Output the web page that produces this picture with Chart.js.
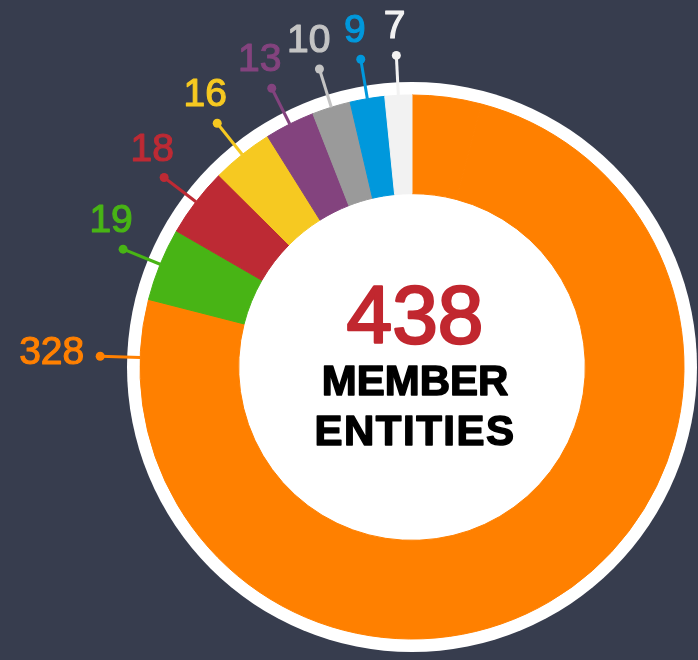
<!DOCTYPE html>
<html>
<head>
<meta charset="utf-8">
<script src="https://cdn.jsdelivr.net/npm/chart.js@4/dist/chart.umd.min.js"></script>
<style>
  html, body { margin: 0; padding: 0; background: #373d4e; }
  #wrap { width: 698px; height: 660px; overflow: hidden; }
  canvas { display: block; }
</style>
</head>
<body>
<div id="wrap"><canvas id="c" width="698" height="660"></canvas></div>
<script>
// ---- data ----
// The ring adds up to the 438 in the centre: 18 entities are drawn in orange without a label.
const categories = ['Unlabelled', 'Group A', 'Group B', 'Group C', 'Group D', 'Group E', 'Group F', 'Group G', 'Group H'];
const values = [18, 328, 19, 18, 16, 13, 10, 9, 7];
const showLabel = [false, true, true, true, true, true, true, true, true];
const sliceColors = ['#ff8000', '#ff8000', '#48b415', '#bd2a34', '#f6c921', '#83437e', '#9a9a9a', '#0098dc', '#f2f2f2'];
const labelColors = ['#ff8000', '#ff8000', '#48b415', '#bd2a34', '#f6c921', '#83437e', '#c4c4c4', '#0098dc', '#f2f2f2'];
const centerValue = '438';
const centerLines = ['MEMBER', 'ENTITIES'];

const FONT = '"Liberation Sans", Arial, Helvetica, sans-serif';

const decorPlugin = {
  id: 'decor',
  beforeDatasetsDraw(chart) {
    const meta = chart.getDatasetMeta(0);
    const arc = meta.data[0];
    if (!arc) return;
    const ctx = chart.ctx;
    ctx.save();
    ctx.fillStyle = '#ffffff';
    ctx.beginPath();
    ctx.arc(arc.x, arc.y, arc.outerRadius + 13, 0, Math.PI * 2);
    ctx.fill();
    ctx.restore();
  },
  afterDatasetsDraw(chart) {
    const meta = chart.getDatasetMeta(0);
    const ctx = chart.ctx;
    const dotR = 312;
    const maxBack = 12.4 * Math.PI / 180;
    ctx.save();
    ctx.lineJoin = 'round';
    meta.data.forEach((arc, i) => {
      if (!showLabel[i]) return;
      const span = arc.endAngle - arc.startAngle;
      const a = arc.endAngle - Math.min(span / 2, maxBack);
      const c = Math.cos(a), s = Math.sin(a);
      const x0 = arc.x + c * arc.outerRadius, y0 = arc.y + s * arc.outerRadius;
      const x1 = arc.x + c * dotR, y1 = arc.y + s * dotR;
      const col = labelColors[i];
      ctx.strokeStyle = col;
      ctx.lineWidth = 3;
      ctx.beginPath();
      ctx.moveTo(x0, y0);
      ctx.lineTo(x1, y1);
      ctx.stroke();
      ctx.fillStyle = col;
      ctx.beginPath();
      ctx.arc(x1, y1, 4.5, 0, Math.PI * 2);
      ctx.fill();
      ctx.font = '39px ' + FONT;
      ctx.lineWidth = 1.2;
      let tx, ty;
      if (Math.abs(c) > 0.95) {
        ctx.textAlign = c < 0 ? 'right' : 'left';
        ctx.textBaseline = 'middle';
        tx = x1 + c * 16; ty = y1 - 3;
      } else {
        ctx.textAlign = 'center';
        ctx.textBaseline = 'alphabetic';
        tx = x1 + Math.sign(c) * 12 * Math.min(1, Math.abs(c) * 3);
        ty = y1 - 17;
      }
      ctx.strokeText(String(values[i]), tx, ty);
      ctx.fillText(String(values[i]), tx, ty);
    });
    // center text
    const a0 = meta.data[0];
    const cx = a0.x + 3, cy = a0.y;
    ctx.textAlign = 'center';
    ctx.textBaseline = 'alphabetic';
    ctx.font = '82px ' + FONT;
    ctx.fillStyle = '#c1272f';
    ctx.strokeStyle = '#c1272f';
    ctx.lineWidth = 2.5;
    ctx.strokeText(centerValue, cx, cy - 24);
    ctx.fillText(centerValue, cx, cy - 24);
    ctx.font = 'bold 42px ' + FONT;
    ctx.fillStyle = '#000000';
    ctx.strokeStyle = '#000000';
    ctx.lineWidth = 1.5;
    centerLines.forEach((t, k) => {
      ctx.letterSpacing = k === 1 ? '1.5px' : '0px';
      ctx.strokeText(t, cx, cy + 28 + k * 50);
      ctx.fillText(t, cx, cy + 28 + k * 50);
    });
    ctx.restore();
  }
};

new Chart(document.getElementById('c'), {
  type: 'doughnut',
  data: {
    labels: categories,
    datasets: [{
      data: values,
      backgroundColor: sliceColors,
      borderColor: sliceColors,
      borderWidth: 1,
      hoverOffset: 0,
      offset: 0
    }]
  },
  options: {
    responsive: false,
    animation: false,
    devicePixelRatio: 1,
    radius: 272,
    cutout: 173,
    layout: { padding: { left: 140, right: 14, top: 95, bottom: 21 } },
    plugins: {
      legend: { display: false },
      tooltip: { enabled: false }
    },
    events: []
  },
  plugins: [decorPlugin]
});
</script>
</body>
</html>
